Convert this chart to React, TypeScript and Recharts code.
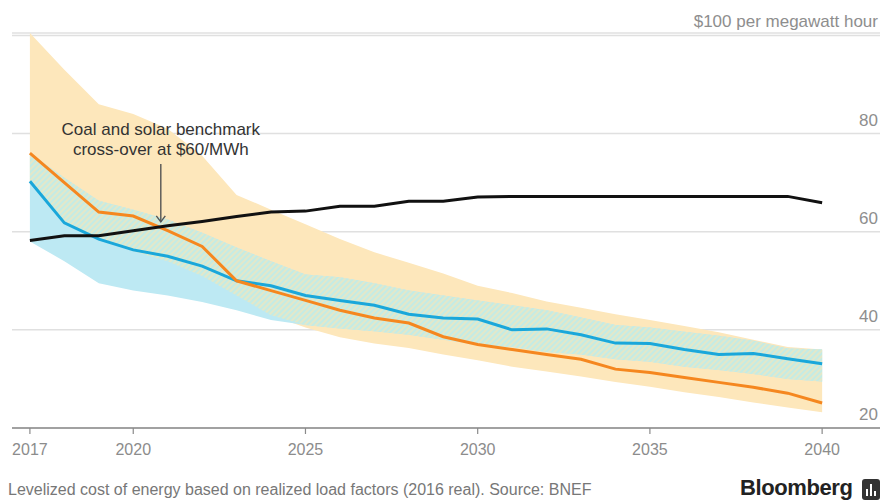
import React from 'react';
import {
  Area,
  CartesianGrid,
  ComposedChart,
  Line,
  ReferenceDot,
  XAxis,
  YAxis,
} from 'recharts';

const FONT = '"Liberation Sans", Arial, sans-serif';

const years = [
  2017, 2018, 2019, 2020, 2021, 2022, 2023, 2024, 2025, 2026, 2027, 2028,
  2029, 2030, 2031, 2032, 2033, 2034, 2035, 2036, 2037, 2038, 2039, 2040,
];

// coal benchmark (black)
const coal = [
  58.2, 59.2, 59.2, 60.2, 61.2, 62.1, 63.1, 64, 64.2, 65.2, 65.2, 66.2,
  66.2, 67.1, 67.2, 67.2, 67.2, 67.2, 67.2, 67.2, 67.2, 67.2, 67.2, 65.9,
];

// solar benchmark (orange) and its range (yellow)
const solar = [
  76, 70, 64, 63.2, 60.2, 57, 50, 48, 46, 44, 42.4, 41.4,
  38.6, 37, 36, 35, 34, 32, 31.3, 30.3, 29.3, 28.3, 27.1, 25.1,
];
const solarHigh = [
  100.5, 93, 86, 84, 81, 75.5, 67.5, 64.5, 61.5, 58.5, 55.8, 53.7,
  51.5, 49, 47.5, 45.8, 44.5, 43.2, 42, 40.8, 39.5, 38, 36.5, 36,
];
const solarLow = [
  70, 62, 58.5, 56, 54, 51, 47, 43, 40.5, 38.5, 37.2, 36.3,
  35, 33.8, 32.5, 31.5, 30.5, 29.4, 28.4, 27.3, 26.3, 25.2, 24.2, 23.2,
];

// wind benchmark (blue) and its range (light blue)
const wind = [
  70.3, 61.8, 58.5, 56.3, 55, 53, 50, 49, 47, 46, 45, 43.2,
  42.4, 42.2, 40, 40.2, 39, 37.3, 37.2, 36, 35, 35.2, 34.1, 33.1,
];
const windHigh = [
  76, 71, 66.3, 64.5, 62.5, 59.8, 56.8, 54, 51.3, 50.7, 49.5, 48,
  47, 46, 45, 44, 42.5, 41, 40.5, 39.6, 38.8, 37.8, 36.2, 36,
];
const windLow = [
  58, 54, 49.5, 48, 47, 45.7, 44, 42, 41, 40.3, 39.7, 39,
  38, 37, 36.5, 35.5, 35, 34, 33.5, 32.5, 31.8, 31, 30, 29.5,
];

const xTicks = [2017, 2020, 2025, 2030, 2035, 2040];
const yTicks = [20, 40, 60, 80, 100];

const data = years.map((year, i) => ({
  year,
  coal: coal[i],
  solar: solar[i],
  wind: wind[i],
  solarBand: [solarLow[i], solarHigh[i]],
  windBand: [windLow[i], windHigh[i]],
  overlap: [
    Math.max(solarLow[i], windLow[i]),
    Math.min(solarHigh[i], windHigh[i]),
  ],
}));

function RightTick(props: any) {
  const { x, y, payload } = props;
  const label =
    payload.value === 100 ? '$100 per megawatt hour' : String(payload.value);
  return (
    <text
      x={x - 2}
      y={y - 8}
      textAnchor="end"
      fill="#8e8e8e"
      fontSize={17}
      fontFamily={FONT}
    >
      {label}
    </text>
  );
}

function CrossoverNote(props: any) {
  const { cx, cy } = props;
  return (
    <g>
      <text
        x={cx}
        y={cy - 87}
        textAnchor="middle"
        fill="#333"
        fontSize={17}
        fontFamily={FONT}
      >
        Coal and solar benchmark
      </text>
      <text
        x={cx}
        y={cy - 67}
        textAnchor="middle"
        fill="#333"
        fontSize={17}
        fontFamily={FONT}
      >
        cross-over at $60/MWh
      </text>
      <line x1={cx} y1={cy - 58} x2={cx} y2={cy} stroke="#555" strokeWidth={1.4} />
      <polyline
        points={`${cx - 4.5},${cy - 6} ${cx},${cy} ${cx + 4.5},${cy - 6}`}
        fill="none"
        stroke="#555"
        strokeWidth={1.4}
      />
    </g>
  );
}

export default function App() {
  return (
    <div
      style={{
        position: 'absolute',
        left: 0,
        top: 0,
        width: 883,
        height: 503,
        background: '#fff',
        fontFamily: FONT,
      }}
    >
      <ComposedChart
        width={883}
        height={503}
        data={data}
        margin={{ top: 33, right: 2, left: 12, bottom: 45 }}
      >
        <defs>
          <pattern
            id="overlapHatch"
            patternUnits="userSpaceOnUse"
            width={4}
            height={4}
            patternTransform="rotate(45)"
          >
            <rect width={4} height={4} fill="#c4ebe4" />
            <line x1={1} y1={0} x2={1} y2={4} stroke="#ece8c2" strokeWidth={1.5} />
          </pattern>
        </defs>
        <CartesianGrid
          horizontal
          vertical={false}
          stroke="#e0e0e0"
          strokeWidth={1.5}
        />
        <XAxis
          dataKey="year"
          type="number"
          domain={[2016.48, 2041.68]}
          allowDataOverflow
          ticks={xTicks}
          height={30}
          tickSize={6}
          tickMargin={10}
          axisLine={{ stroke: '#8a8a8a', strokeWidth: 1.5 }}
          tickLine={{ stroke: '#8a8a8a', strokeWidth: 1.2 }}
          tick={{ fill: '#8c8c8c', fontSize: 16, fontFamily: FONT }}
        />
        <YAxis
          orientation="right"
          type="number"
          domain={[20, 100]}
          ticks={yTicks}
          width={1}
          axisLine={false}
          tickLine={false}
          tickSize={0}
          tickMargin={0}
          tick={<RightTick />}
        />
        <Area
          type="linear"
          dataKey="solarBand"
          stroke="none"
          fill="#fde7bb"
          fillOpacity={1}
          dot={false}
          activeDot={false}
          isAnimationActive={false}
        />
        <Area
          type="linear"
          dataKey="windBand"
          stroke="none"
          fill="#bde9f3"
          fillOpacity={1}
          dot={false}
          activeDot={false}
          isAnimationActive={false}
        />
        <Area
          type="linear"
          dataKey="overlap"
          stroke="none"
          fill="url(#overlapHatch)"
          fillOpacity={1}
          dot={false}
          activeDot={false}
          isAnimationActive={false}
        />
        <Line
          type="linear"
          dataKey="wind"
          stroke="#1aa7da"
          strokeWidth={3}
          dot={false}
          activeDot={false}
          isAnimationActive={false}
        />
        <Line
          type="linear"
          dataKey="solar"
          stroke="#f5871f"
          strokeWidth={3}
          dot={false}
          activeDot={false}
          isAnimationActive={false}
        />
        <Line
          type="linear"
          dataKey="coal"
          stroke="#111"
          strokeWidth={3}
          dot={false}
          activeDot={false}
          isAnimationActive={false}
        />
        <ReferenceDot x={2020.8} y={62} r={0} shape={<CrossoverNote />} />
      </ComposedChart>
      <div
        style={{
          position: 'absolute',
          left: 8,
          top: 481,
          fontSize: 16,
          color: '#777',
          whiteSpace: 'nowrap',
        }}
      >
        Levelized cost of energy based on realized load factors (2016 real). Source: BNEF
      </div>
      <div
        style={{
          position: 'absolute',
          left: 740,
          top: 475,
          fontSize: 22,
          fontWeight: 'bold',
          color: '#222',
          letterSpacing: -0.4,
        }}
      >
        Bloomberg
      </div>
      <svg
        style={{ position: 'absolute', left: 862, top: 479 }}
        width={18}
        height={21}
      >
        <rect x={0} y={0} width={18} height={21} rx={3} fill="#333" />
        <rect x={4} y={10} width={2} height={7} fill="#fff" />
        <rect x={8} y={5} width={2} height={12} fill="#fff" />
        <rect x={12} y={12} width={2} height={5} fill="#fff" />
      </svg>
    </div>
  );
}
